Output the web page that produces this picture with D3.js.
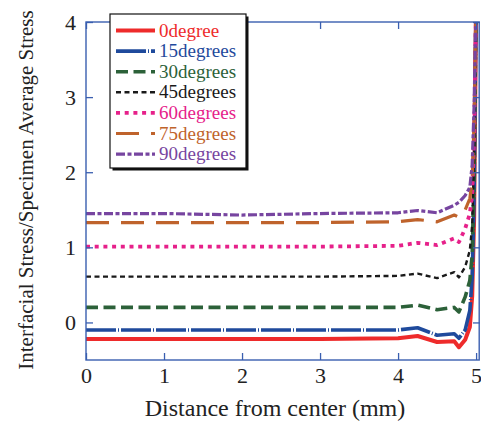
<!DOCTYPE html>
<html>
<head>
<meta charset="utf-8">
<script src="https://cdn.jsdelivr.net/npm/d3@7"></script>
<style>
  body { margin: 0; background: #fff; }
  svg text { font-family: "Times New Roman", "Liberation Serif", Times, serif !important; }
</style>
</head>
<body>
<div id="chart"></div>
<script>
var width = 481,
  height = 421,
  margin = { top: 22, right: 1, bottom: 61, left: 86 };

// distance from center (mm)
var distance = [0, 1, 2, 3, 4, 4.25, 4.5, 4.72, 4.78, 4.86, 4.92, 4.95, 4.975, 5.0];

var stress0 = [-0.22, -0.22, -0.22, -0.22, -0.21, -0.18, -0.26, -0.25, -0.33, -0.23, -0.06, 0.35, 1.4, 4.3];
var stress15 = [-0.10, -0.10, -0.10, -0.10, -0.10, -0.07, -0.17, -0.15, -0.21, -0.10, 0.16, 0.6, 1.7, 4.3];
var stress30 = [0.20, 0.20, 0.20, 0.20, 0.20, 0.23, 0.17, 0.20, 0.14, 0.34, 0.56, 0.9, 2.0, 4.3];
var stress45 = [0.61, 0.61, 0.61, 0.61, 0.62, 0.65, 0.59, 0.67, 0.60, 0.74, 0.96, 1.3, 2.2, 4.3];
var stress60 = [1.01, 1.01, 1.01, 1.01, 1.02, 1.06, 1.03, 1.12, 1.07, 1.25, 1.45, 1.7, 2.5, 4.3];
var stress75 = [1.33, 1.33, 1.33, 1.33, 1.34, 1.37, 1.34, 1.43, 1.40, 1.50, 1.65, 1.9, 2.7, 4.3];
var stress90 = [1.45, 1.45, 1.43, 1.45, 1.46, 1.49, 1.46, 1.56, 1.60, 1.69, 1.80, 2.1, 2.9, 4.3];

var seriesNames = ['0degree', '15degrees', '30degrees', '45degrees', '60degrees', '75degrees', '90degrees'];
var xTicks = [0, 1, 2, 3, 4, 5];
var yTicks = [0, 1, 2, 3, 4];

var allSeries = [stress0, stress15, stress30, stress45, stress60, stress75, stress90];

var styles = [
  { color: '#ee2b2b', w: 4, dash: null },
  { color: '#1f4a9c', w: 3.6, dash: '30,2,1,2' },
  { color: '#2c6139', w: 3.6, dash: '12,5.5' },
  { color: '#1a1a1a', w: 2.4, dash: '5,3.5' },
  { color: '#e6218a', w: 3.8, dash: '4,4.7' },
  { color: '#bf632c', w: 3.2, dash: '23,12' },
  { color: '#7745a0', w: 3.2, dash: '9,2.5,4,2.5' }
];

var axisColor = '#3a5fb0';
var serif = '"Times New Roman", "Liberation Serif", serif';

var x = d3.scaleLinear()
  .domain([0, 5.05])
  .range([margin.left, width - margin.right]);

var y = d3.scaleLinear()
  .domain([-0.5, 4])
  .range([height - margin.bottom, margin.top]);

var svg = d3.select('#chart').append('svg')
  .attr('width', width)
  .attr('height', height);

svg.append('clipPath')
  .attr('id', 'plot-clip')
  .append('rect')
  .attr('x', x(0))
  .attr('y', y(4))
  .attr('width', x(5.05) - x(0))
  .attr('height', y(-0.5) - y(4));

var line = d3.line()
  .x(function (d) { return x(d[0]) })
  .y(function (d) { return y(d[1]) });

var lines = svg.append('g').attr('clip-path', 'url(#plot-clip)');

allSeries.forEach(function (vals, i) {
  var pts = distance.map(function (dx, j) { return [dx, vals[j]] });
  lines.append('path')
    .attr('d', line(pts))
    .attr('fill', 'none')
    .attr('stroke', styles[i].color)
    .attr('stroke-width', styles[i].w)
    .attr('stroke-dasharray', styles[i].dash)
    .attr('stroke-linejoin', 'round');
});

// frame + inward ticks on all four sides
function styleAxis(g) {
  g.attr('font-family', serif);
  g.select('.domain').remove();
  g.selectAll('.tick line').attr('stroke', axisColor).attr('stroke-width', 1.3);
  g.selectAll('.tick text')
    .attr('fill', '#222')
    .attr('font-family', serif)
    .style('font-size', '22px');
}

svg.append('g')
  .attr('transform', 'translate(0,' + y(-0.5) + ')')
  .call(d3.axisBottom(x).tickValues(xTicks).tickSize(-7).tickPadding(7).tickFormat(d3.format('d')))
  .call(styleAxis);

svg.append('g')
  .attr('transform', 'translate(0,' + y(4) + ')')
  .call(d3.axisTop(x).tickValues(xTicks).tickSize(-7).tickFormat(''))
  .call(styleAxis);

svg.append('g')
  .attr('transform', 'translate(' + x(0) + ',0)')
  .call(d3.axisLeft(y).tickValues(yTicks).tickSize(-7).tickPadding(10).tickFormat(d3.format('d')))
  .call(styleAxis);

svg.append('g')
  .attr('transform', 'translate(' + x(5.05) + ',0)')
  .call(d3.axisRight(y).tickValues(yTicks).tickSize(-7).tickFormat(''))
  .call(styleAxis);

svg.append('rect')
  .attr('x', x(0))
  .attr('y', y(4))
  .attr('width', x(5.05) - x(0) - 0.8)
  .attr('height', y(-0.5) - y(4))
  .attr('fill', 'none')
  .attr('stroke', axisColor)
  .attr('stroke-width', 1.4);

// axis titles
svg.append('text')
  .attr('x', 275)
  .attr('y', 416)
  .attr('text-anchor', 'middle')
  .attr('fill', '#222')
  .attr('font-family', serif)
  .style('font-size', '24px')
  .text('Distance from center (mm)');

svg.append('text')
  .attr('transform', 'translate(33,190) rotate(-90)')
  .attr('text-anchor', 'middle')
  .attr('fill', '#222')
  .attr('font-family', serif)
  .style('font-size', '21px')
  .text('Interfacial Stress/Specimen Average Stress');

// legend
var lx = 110, ly = 14, lw = 136, lh = 154;

svg.append('rect')
  .attr('x', lx + 2.5)
  .attr('y', ly + 2.5)
  .attr('width', lw)
  .attr('height', lh)
  .attr('fill', '#111');

svg.append('rect')
  .attr('x', lx)
  .attr('y', ly)
  .attr('width', lw)
  .attr('height', lh)
  .attr('fill', '#fff')
  .attr('stroke', '#111')
  .attr('stroke-width', 1.2);

var legend = svg.append('g');

seriesNames.forEach(function (name, i) {
  var cy = 30.5 + i * 20.6;
  legend.append('line')
    .attr('x1', 116)
    .attr('x2', 155)
    .attr('y1', cy)
    .attr('y2', cy)
    .attr('stroke', styles[i].color)
    .attr('stroke-width', styles[i].w)
    .attr('stroke-dasharray', styles[i].dash);
  legend.append('text')
    .attr('x', 159)
    .attr('y', cy + 6)
    .attr('fill', styles[i].color)
    .attr('font-family', serif)
    .style('font-size', '19px')
    .text(name);
});
</script>
</body>
</html>
